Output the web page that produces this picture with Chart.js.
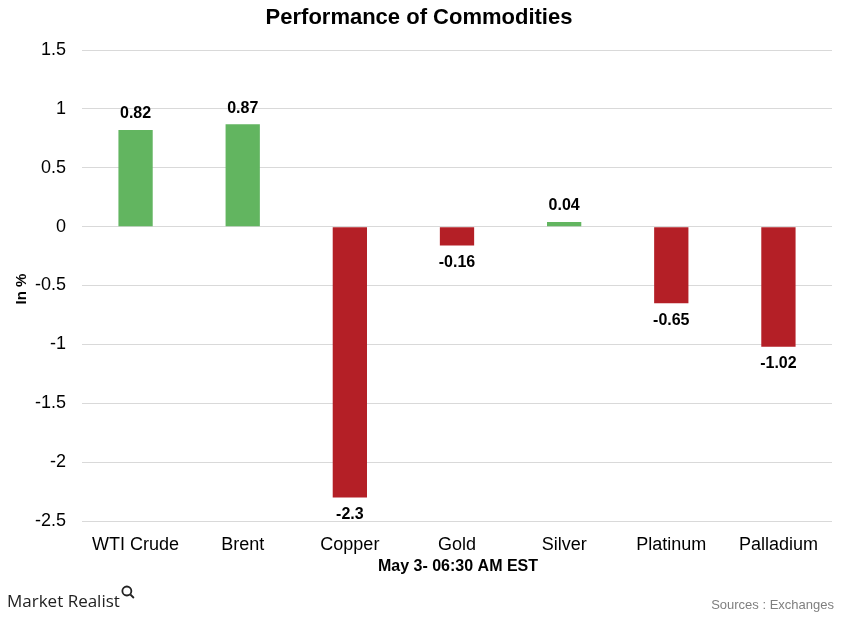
<!DOCTYPE html>
<html><head><meta charset="utf-8">
<script src="https://cdn.jsdelivr.net/npm/chart.js@4"></script>
<style>html,body{margin:0;padding:0;background:#fff}#c{display:block}</style>
</head><body>
<div style="width:844px;height:620px"><canvas id="c" width="844" height="620"></canvas></div>
<script>
const categories = ["WTI Crude","Brent","Copper","Gold","Silver","Platinum","Palladium"];
const values = [0.82, 0.87, -2.3, -0.16, 0.04, -0.65, -1.02];
const yTicks = [1.5, 1, 0.5, 0, -0.5, -1, -1.5, -2, -2.5];
const GREEN = '#62B560', RED = '#B41F26';
const FONT = '"Liberation Sans", Arial, sans-serif';

const extras = {
  id: 'extras',
  afterDatasetsDraw(chart) {
    const ctx = chart.ctx;
    const meta = chart.getDatasetMeta(0);
    ctx.save();
    ctx.font = 'bold 16px ' + FONT;
    ctx.fillStyle = '#000';
    ctx.textAlign = 'center';
    ctx.textBaseline = 'middle';
    meta.data.forEach((bar, i) => {
      const v = values[i];
      const y = v >= 0 ? bar.y - 16 : bar.y + 17;
      ctx.fillText(String(v), bar.x, y);
    });
    ctx.restore();
  },
  afterDraw(chart) {
    const ctx = chart.ctx;
    ctx.save();
    ctx.fillStyle = '#000';
    ctx.textAlign = 'center';
    ctx.textBaseline = 'middle';
    ctx.font = 'bold 22px ' + FONT;
    ctx.fillText('Performance of Commodities', 419, 18);
    ctx.font = 'bold 16px ' + FONT;
    ctx.fillText('May 3- 06:30 AM EST', 458, 567);
    ctx.save();
    ctx.translate(22, 289);
    ctx.rotate(-Math.PI / 2);
    ctx.font = 'bold 15px ' + FONT;
    ctx.fillText('In %', 0, 0);
    ctx.restore();
    // sources
    ctx.font = '13px ' + FONT;
    ctx.fillStyle = '#7F7F7F';
    ctx.textAlign = 'right';
    ctx.fillText('Sources : Exchanges', 834, 605);
    // logo
    ctx.font = '17px "Open Sans", "DejaVu Sans", sans-serif';
    ctx.fillStyle = '#222';
    ctx.textAlign = 'left';
    ctx.fillText('Market Realist', 7, 602);
    const w = ctx.measureText('Market Realist').width;
    ctx.strokeStyle = '#222';
    ctx.lineWidth = 1.8;
    ctx.beginPath();
    ctx.arc(7 + w + 7, 591, 4.5, 0, Math.PI * 2);
    ctx.stroke();
    ctx.beginPath();
    ctx.moveTo(7 + w + 10.5, 594.5);
    ctx.lineTo(7 + w + 14, 598);
    ctx.stroke();
    ctx.restore();
  }
};

new Chart(document.getElementById('c'), {
  type: 'bar',
  data: {
    labels: categories,
    datasets: [{
      data: values,
      backgroundColor: values.map(v => v >= 0 ? GREEN : RED),
      categoryPercentage: 1,
      barPercentage: 0.32,
      borderWidth: 0
    }]
  },
  options: {
    responsive: false,
    animation: false,
    devicePixelRatio: 1,
    layout: { padding: { top: 50, right: 12, bottom: 45, left: 0 } },
    plugins: { legend: { display: false }, tooltip: { enabled: false }, title: { display: false } },
    scales: {
      x: {
        grid: { display: false, drawTicks: false },
        border: { display: false },
        ticks: { color: '#000', font: { family: FONT, size: 18 }, padding: 13, maxRotation: 0, autoSkip: false },
        afterFit(s) { s.height = 54; }
      },
      y: {
        min: -2.5, max: 1.5,
        grid: { color: '#D9D9D9', lineWidth: 1, drawTicks: false },
        border: { display: false },
        afterBuildTicks(s) { s.ticks = yTicks.map(v => ({ value: v })); },
        ticks: { color: '#000', font: { family: FONT, size: 18 }, padding: 16,
          callback: v => String(v) },
        afterFit(s) { s.width = 82; }
      }
    }
  },
  plugins: [extras]
});
</script>
</body></html>
